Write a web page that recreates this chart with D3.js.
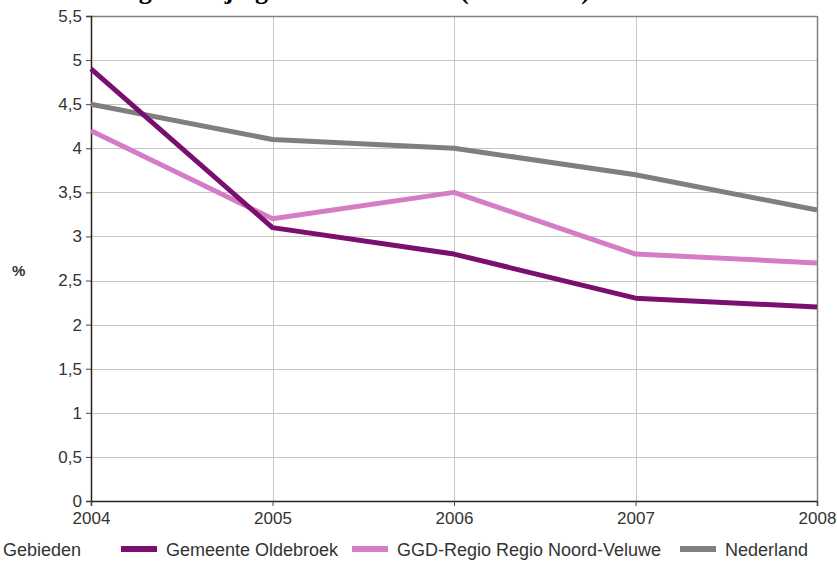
<!DOCTYPE html>
<html>
<head>
<meta charset="utf-8">
<script src="https://cdn.jsdelivr.net/npm/d3@7"></script>
<style>
  html, body { margin: 0; padding: 0; background: #fff; }
  svg { display: block; }
</style>
</head>
<body>
<svg id="chart" width="837" height="562"></svg>
<script>
const years = [2004, 2005, 2006, 2007, 2008];
const oldebroek = [4.9, 3.1, 2.8, 2.3, 2.2];
const ggdNoordVeluwe = [4.2, 3.2, 3.5, 2.8, 2.7];
const nederland = [4.5, 4.1, 4.0, 3.7, 3.3];
const yTicks = [0, 0.5, 1, 1.5, 2, 2.5, 3, 3.5, 4, 4.5, 5, 5.5];
const seriesNames = ["Gemeente Oldebroek", "GGD-Regio Regio Noord-Veluwe", "Nederland"];
const seriesColors = ["#7b0f6f", "#d47cc5", "#7f7f7f"];
const titleText = "Ontwikkeling voortijdige schoolverlaters (2004-2008)";

const series = [oldebroek, ggdNoordVeluwe, nederland].map((vals, i) => ({
  name: seriesNames[i], color: seriesColors[i],
  points: years.map((y, j) => ({ year: y, value: vals[j] }))
}));

const svg = d3.select("#chart");
const font = "'Liberation Sans', Arial, sans-serif";
const x = d3.scaleLinear().domain([2004, 2008]).range([91, 817]);
const y = d3.scaleLinear().domain([0, 5.5]).range([501, 16]);
const fmt = v => String(v).replace(".", ",");

// title (cut off at top)
svg.append("text").attr("x", 0).attr("y", -1)
  .attr("font-family", "'Liberation Serif', 'Times New Roman', serif")
  .attr("font-weight", "bold").attr("font-size", 26).attr("fill", "#000")
  .text(titleText);

// gridlines
svg.append("g").selectAll("line.h").data(yTicks.slice(1, -1)).join("line")
  .attr("x1", x(2004)).attr("x2", x(2008))
  .attr("y1", d => Math.round(y(d)) + 0.5).attr("y2", d => Math.round(y(d)) + 0.5)
  .attr("stroke", "#c6c6c6").attr("stroke-width", 1);
svg.append("g").selectAll("line.v").data(years.slice(1, -1)).join("line")
  .attr("y1", y(5.5)).attr("y2", y(0))
  .attr("x1", d => Math.round(x(d)) + 0.5).attr("x2", d => Math.round(x(d)) + 0.5)
  .attr("stroke", "#c6c6c6").attr("stroke-width", 1);
// top and right border
svg.append("line").attr("x1", x(2004)).attr("x2", x(2008))
  .attr("y1", Math.round(y(5.5)) + 0.5).attr("y2", Math.round(y(5.5)) + 0.5)
  .attr("stroke", "#808080").attr("stroke-width", 1.5);
svg.append("line").attr("y1", y(5.5)).attr("y2", y(0))
  .attr("x1", Math.round(x(2008)) + 0.5).attr("x2", Math.round(x(2008)) + 0.5)
  .attr("stroke", "#808080").attr("stroke-width", 1.5);

// axes
const yAxis = d3.axisLeft(y).tickValues(yTicks).tickFormat(fmt).tickSize(5).tickPadding(4);
const gy = svg.append("g").attr("transform", `translate(${x(2004)},0)`).call(yAxis);
gy.select(".domain").attr("stroke", "#222").attr("stroke-width", 1.5);
gy.selectAll(".tick line").attr("stroke", "#444");
gy.selectAll("text").attr("font-family", font).attr("font-size", 17).attr("fill", "#333");

const xAxis = d3.axisBottom(x).tickValues(years).tickFormat(d3.format("d")).tickSize(5).tickPadding(6);
const gx = svg.append("g").attr("transform", `translate(0,${y(0)})`).call(xAxis);
gx.select(".domain").attr("stroke", "#222").attr("stroke-width", 1.5);
gx.selectAll(".tick line").attr("stroke", "#444");
gx.selectAll("text").attr("font-family", font).attr("font-size", 17).attr("fill", "#333");

// % label
svg.append("text").attr("x", 12).attr("y", 276)
  .attr("font-family", font).attr("font-size", 15).attr("font-weight", "bold").attr("fill", "#333").text("%");

// lines
const line = d3.line().x(d => x(d.year)).y(d => y(d.value));
svg.append("g").selectAll("path").data(series.slice().reverse()).join("path")
  .attr("d", d => line(d.points)).attr("fill", "none")
  .attr("stroke", d => d.color).attr("stroke-width", 5)
  .attr("stroke-linejoin", "round");

// legend
const lg = svg.append("g").attr("font-family", font).attr("font-size", 18).attr("fill", "#333");
lg.append("text").attr("x", 3).attr("y", 556).text("Gebieden");
const legendX = [121, 352, 680];
series.forEach((s, i) => {
  lg.append("rect").attr("x", legendX[i]).attr("y", 546).attr("width", 36).attr("height", 6).attr("fill", s.color);
  lg.append("text").attr("x", legendX[i] + 45).attr("y", 556).text(s.name);
});
</script>
</body>
</html>
